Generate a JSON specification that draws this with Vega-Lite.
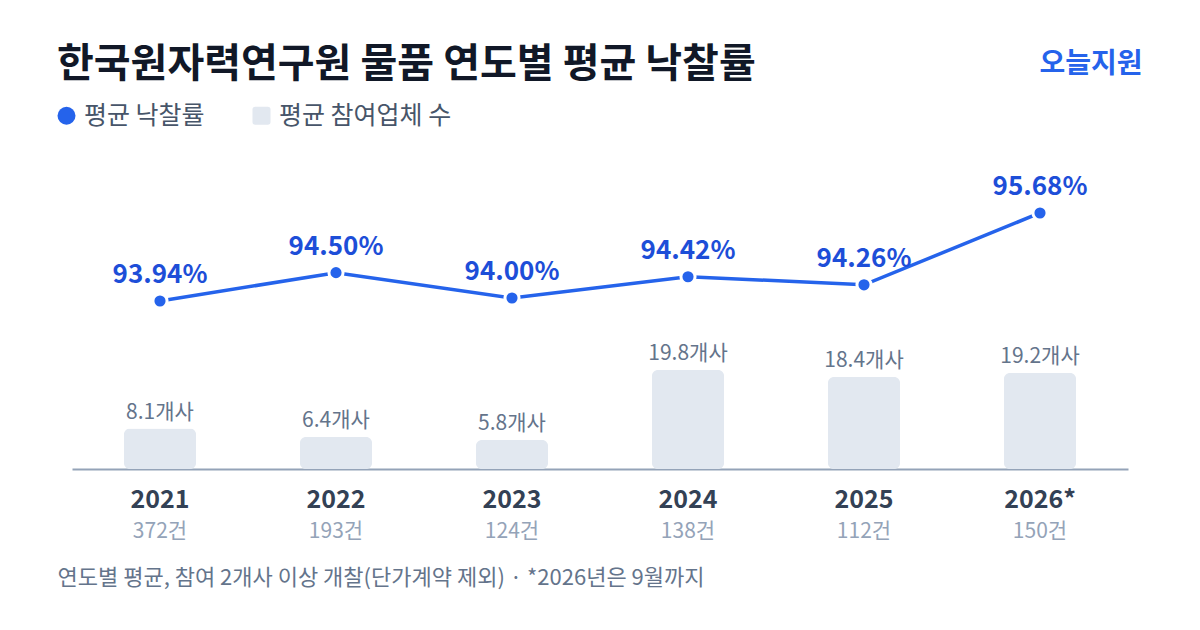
{
  "$schema": "https://vega.github.io/schema/vega-lite/v6.json",
  "width": 1056,
  "height": 319,
  "autosize": {"type": "none"},
  "padding": {"left": 72, "top": 150, "right": 72, "bottom": 161},
  "background": "#ffffff",
  "config": {
    "font": "Noto Sans CJK KR",
    "view": {"stroke": null}
  },
  "title": {
    "text": "한국원자력연구원 물품 연도별 평균 낙찰률",
    "anchor": "start",
    "frame": "group",
    "dx": -15,
    "dy": 67,
    "fontSize": 40,
    "fontWeight": "bold",
    "color": "#111827",
    "font": "Noto Sans CJK KR",
    "baseline": "alphabetic",
    "offset": 0
  },
  "data": {
    "values": [
      {"label": "2021|372건", "rate": 93.94, "firms": 8.1},
      {"label": "2022|193건", "rate": 94.50, "firms": 6.4},
      {"label": "2023|124건", "rate": 94.00, "firms": 5.8},
      {"label": "2024|138건", "rate": 94.42, "firms": 19.8},
      {"label": "2025|112건", "rate": 94.26, "firms": 18.4},
      {"label": "2026*|150건", "rate": 95.68, "firms": 19.2}
    ]
  },
  "layer": [
    {
      "mark": {"type": "bar", "cornerRadius": 6},
      "encoding": {
        "x": {
          "field": "label",
          "type": "nominal",
          "sort": null,
          "scale": {"paddingInner": 0.59, "paddingOuter": 0.295},
          "axis": {
            "orient": "bottom",
            "title": null,
            "labelExpr": "split(datum.label, '|')[0]",
            "labelAngle": 0,
            "labelFontSize": 25,
            "labelFontWeight": "bold",
            "labelColor": "#334155",
            "labelPadding": 18,
            "ticks": false,
            "domainColor": "#94a3b8",
            "domainWidth": 2
          }
        },
        "y": {
          "field": "firms",
          "type": "quantitative",
          "scale": {"domain": [0, 63.8]},
          "axis": null
        },
        "color": {
          "datum": "평균 참여업체 수",
          "type": "nominal",
          "scale": {
            "domain": ["평균 낙찰률", "평균 참여업체 수"],
            "range": ["#2563eb", "#e2e8f0"]
          },
          "legend": {
            "orient": "none",
            "legendX": -18,
            "legendY": -47,
            "direction": "horizontal",
            "title": null,
            "padding": 0,
            "symbolType": "circle",
            "symbolSize": 324,
            "symbolStrokeWidth": 0,
            "labelFontSize": 25,
            "labelLimit": 400,
            "labelColor": "#475569",
            "labelOffset": 5,
            "columnPadding": 44,
            "encode": {
              "symbols": {
                "update": {
                  "shape": {"signal": "datum.value === '평균 낙찰률' ? 'circle' : 'M-1,-0.7Q-1,-1,-0.7,-1L0.7,-1Q1,-1,1,-0.7L1,0.7Q1,1,0.7,1L-0.7,1Q-1,1,-1,0.7Z'"},
                  "fill": {"signal": "datum.value === '평균 낙찰률' ? '#2563eb' : '#cbd5e1'"}
                }
              }
            }
          }
        }
      }
    },
    {
      "mark": {
        "type": "text",
        "baseline": "bottom",
        "dy": -6,
        "fontSize": 21,
        "color": "#64748b",
        "text": {"expr": "format(datum.firms, '.1f') + '개사'"}
      },
      "encoding": {
        "x": {"field": "label", "type": "nominal", "sort": null, "axis": null},
        "y": {"field": "firms", "type": "quantitative", "scale": {"domain": [0, 63.8]}, "axis": null}
      }
    },
    {
      "mark": {"type": "line", "color": "#2563eb", "strokeWidth": 3.5},
      "encoding": {
        "x": {
          "field": "label",
          "type": "nominal",
          "sort": null,
          "axis": {
            "orient": "bottom",
            "title": "연도별 평균, 참여 2개사 이상 개찰(단가계약 제외) · *2026년은 9월까지",
            "titleFontSize": 22,
            "titleFontWeight": "normal",
            "titleColor": "#64748b",
            "titleAnchor": "start",
            "titleAlign": "left",
            "titleX": -15,
            "titleY": 108,
            "titleBaseline": "middle",
            "titleLimit": 1000,
            "labelExpr": "split(datum.label, '|')[1]",
            "labelAngle": 0,
            "labelFontSize": 21,
            "labelColor": "#94a3b8",
            "labelPadding": 51,
            "ticks": false,
            "domain": false
          }
        },
        "y": {
          "field": "rate",
          "type": "quantitative",
          "scale": {"domain": [90.62, 96.924]},
          "axis": {
            "orient": "right",
            "title": "오늘지원",
            "titleAngle": 0,
            "titleAlign": "right",
            "titleBaseline": "middle",
            "titleX": 14,
            "titleY": -86,
            "titleFontSize": 28,
            "titleFontWeight": "bold",
            "titleColor": "#2563eb",
            "labels": false,
            "ticks": false,
            "domain": false,
            "grid": false
          }
        }
      }
    },
    {
      "mark": {"type": "point", "filled": true, "size": 200, "opacity": 1, "stroke": "#ffffff", "strokeWidth": 3},
      "encoding": {
        "x": {"field": "label", "type": "nominal", "sort": null, "axis": null},
        "y": {"field": "rate", "type": "quantitative", "scale": {"domain": [90.62, 96.924]}, "axis": null},
        "color": {"datum": "평균 낙찰률", "type": "nominal"}
      }
    },
    {
      "mark": {
        "type": "text",
        "baseline": "alphabetic",
        "dy": -18,
        "fontSize": 26,
        "fontWeight": "bold",
        "color": "#1d4ed8",
        "text": {"expr": "format(datum.rate, '.2f') + '%'"}
      },
      "encoding": {
        "x": {"field": "label", "type": "nominal", "sort": null, "axis": null},
        "y": {"field": "rate", "type": "quantitative", "scale": {"domain": [90.62, 96.924]}, "axis": null}
      }
    }
  ],
  "resolve": {"scale": {"y": "independent"}, "axis": {"x": "independent"}}
}
